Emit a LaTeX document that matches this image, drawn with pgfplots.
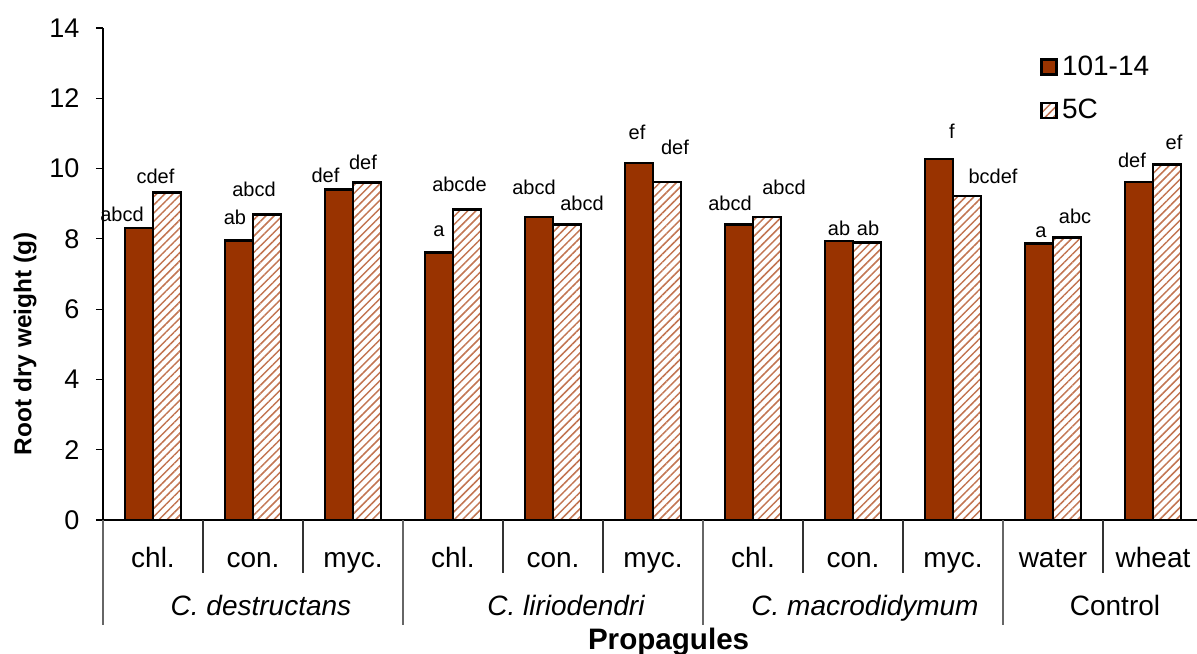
\documentclass[border=0pt]{standalone}
\usepackage{pgfplots}
\pgfplotsset{compat=1.18}
\usepackage{pgfplotstable}
\usepackage{fontspec}
\setmainfont{Liberation Sans}
\usetikzlibrary{patterns.meta,calc}
\definecolor{barred}{HTML}{993300}
\definecolor{hatch}{HTML}{C27552}

\pgfplotstableread{
x A B
0 8.31 9.32
1 7.96 8.69
2 9.41 9.60
3 7.62 8.83
4 8.62 8.41
5 10.16 9.62
6 8.41 8.62
7 7.94 7.90
8 10.27 9.22
9 7.86 8.05
10 9.62 10.11
}\bars

\pgfplotstableread{
x y lab
-0.31 8.70 abcd
0.025 9.79 cdef
0.82 8.60 ab
1.01 9.42 abcd
1.725 9.82 def
2.10 10.19 def
2.86 8.21 a
3.065 9.55 abcde
3.81 9.46 abcd
4.29 9.00 abcd
4.84 11.03 ef
5.22 10.61 def
5.77 9.01 abcd
6.31 9.46 abcd
6.86 8.29 ab
7.15 8.29 ab
7.99 11.07 f
8.40 9.77 bcdef
8.88 8.19 a
9.22 8.63 abc
9.79 10.22 def
10.21 10.75 ef
}\letters

\begin{document}
\begin{tikzpicture}
\begin{axis}[
  name=ax,
  scale only axis,
  width=547bp, height=246bp,
  xmin=-0.5, xmax=10.44,
  ymin=0, ymax=14,
  ytick={0,2,...,14},
  xtick={0,...,10},
  xticklabels={chl.,con.,myc.,chl.,con.,myc.,chl.,con.,myc.,water,wheat},
  xtick style={draw=none},
  axis x line=bottom, axis y line=left,
  axis line style={-, line width=0.6bp, black},
  ytick style={black, line width=0.6bp},
  tick align=outside,
  major tick length=3.5bp,
  /pgf/number format/assume math mode=true,
  yticklabel style={font=\fontsize{13.5bp}{16bp}\selectfont, xshift=-4.8bp},
  xticklabel style={font=\fontsize{14bp}{16bp}\selectfont, anchor=base, yshift=-20bp},
  ylabel={Root dry weight (g)},
  every axis y label/.style={at={(axis description cs:-0.0711,0.358)}, rotate=90, anchor=center,
    font=\bfseries\fontsize{12.2bp}{14bp}\selectfont},
  xlabel={Propagules},
  every axis x label/.style={at={(axis description cs:0.517,0)}, anchor=base, yshift=-64.5bp,
    font=\bfseries\fontsize{14.8bp}{17bp}\selectfont},
  clip=false,
  legend style={draw=none, fill=none, at={(axis description cs:0.8565,0.953)}, anchor=north west,
    inner sep=0pt, row sep=6.6bp, font=\fontsize{14bp}{16bp}\selectfont},
  legend cell align=left,
  legend image code/.code={\draw[#1, line width=1.3bp] (0bp,-3.75bp) rectangle (7.5bp,3.75bp);},
]
\addplot[ybar, bar width=14bp, bar shift=-7bp, fill=barred, draw=black, line width=1.4bp]
  table[x=x, y=A] {\bars};
\addlegendentry{101-14}
\addplot[ybar, bar width=14bp, bar shift=7bp, pattern={Lines[angle=45, distance=2.9bp, line width=0.75bp]}, pattern color=hatch, draw=black, line width=1.4bp]
  table[x=x, y=B] {\bars};
\addlegendentry{5C}
\addplot[draw=none, mark=none, forget plot, point meta=explicit symbolic, nodes near coords,
  every node near coord/.append style={anchor=center, font=\fontsize{10bp}{12bp}\selectfont}]
  table[x=x, y=y, meta=lab] {\letters};
% category separators
\draw[black!80, line width=0.6bp] (axis cs:0.5,0) -- ++(0pt,-26.5bp);
\draw[black!80, line width=0.6bp] (axis cs:1.5,0) -- ++(0pt,-26.5bp);
\draw[black!80, line width=0.6bp] (axis cs:3.5,0) -- ++(0pt,-26.5bp);
\draw[black!80, line width=0.6bp] (axis cs:4.5,0) -- ++(0pt,-26.5bp);
\draw[black!80, line width=0.6bp] (axis cs:6.5,0) -- ++(0pt,-26.5bp);
\draw[black!80, line width=0.6bp] (axis cs:7.5,0) -- ++(0pt,-26.5bp);
\draw[black!80, line width=0.6bp] (axis cs:9.5,0) -- ++(0pt,-26.5bp);
\draw[black!60, line width=0.6bp] (axis cs:-0.5,0) -- ++(0pt,-52.5bp);
\draw[black!60, line width=0.6bp] (axis cs:2.5,0) -- ++(0pt,-52.5bp);
\draw[black!60, line width=0.6bp] (axis cs:5.5,0) -- ++(0pt,-52.5bp);
\draw[black!60, line width=0.6bp] (axis cs:8.5,0) -- ++(0pt,-52.5bp);
% group labels
\node[anchor=base, font=\itshape\fontsize{14bp}{16bp}\selectfont] at ($(axis cs:1.08,0)+(0pt,-47.5bp)$) {C. destructans};
\node[anchor=base, font=\itshape\fontsize{14bp}{16bp}\selectfont] at ($(axis cs:4.13,0)+(0pt,-47.5bp)$) {C. liriodendri};
\node[anchor=base, font=\itshape\fontsize{14bp}{16bp}\selectfont] at ($(axis cs:7.12,0)+(0pt,-47.5bp)$) {C. macrodidymum};
\node[anchor=base, font=\fontsize{14bp}{16bp}\selectfont] at ($(axis cs:9.62,0)+(0pt,-47.5bp)$) {Control};
\coordinate (O) at (rel axis cs:0,0);
\end{axis}
\pgfresetboundingbox
\path[use as bounding box] ($(O)+(-51.5bp,-67bp)$) rectangle ++(598.5bp,327bp);
\end{tikzpicture}
\end{document}
